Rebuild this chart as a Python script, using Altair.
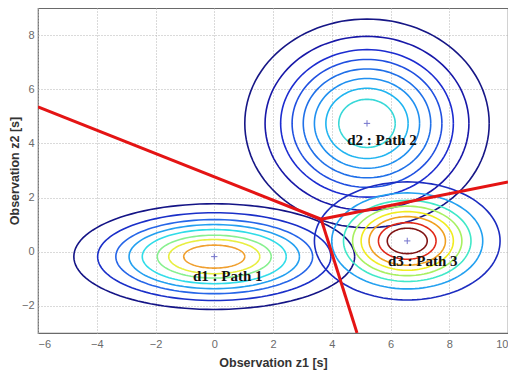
import numpy as np
import pandas as pd
import altair as alt

# Gaussian contour rings (semi-axis along z1, outer -> inner)
g1_center = (0.0, -0.18)
g1_rx = [4.78, 3.97, 3.35, 2.90, 2.45, 1.94, 1.55, 1.04]
g1_aspect = 2.45
g1_colors = ["#141486", "#1a2fc8", "#2666e8", "#24a0f0", "#30dce8", "#88f090", "#e8ee40", "#f0a030"]

g2_center = (5.2, 4.74)
g2_rx = [4.16, 3.47, 2.94, 2.55, 2.17, 1.79, 1.40, 0.96]
g2_aspect = 1.08
g2_colors = ["#161686", "#1818a8", "#1c2cd0", "#2050e0", "#2070e8", "#2090f0", "#20b4f0", "#38d8d8"]

g3_center = (6.57, 0.40)
g3_rx = [3.16, 2.57, 2.17, 1.86, 1.57, 1.30, 0.98, 0.68]
g3_aspect = 1.45
g3_colors = ["#1c2cc0", "#22a0f0", "#40e8c8", "#a8f060", "#f0ec20", "#f0a020", "#e02818", "#801414"]

# decision boundaries (red)
junction = (3.64, 1.2)
bound_ends_x = [-6.0, 10.0, 4.86]
bound_ends_y = [5.35, 2.58, -3.0]

label_text = ["d1 : Path 1", "d2 : Path 2", "d3 : Path 3"]
label_x = [0.46, 5.71, 7.10]
label_y = [-0.88, 4.13, -0.33]

x_ticks = [-6, -4, -2, 0, 2, 4, 6, 8, 10]
y_ticks = [-2, 0, 2, 4, 6, 8]

rows = []
t = np.linspace(0, 2 * np.pi, 121)
for gi, (c, rxs, asp, cols) in enumerate([
        (g1_center, g1_rx, g1_aspect, g1_colors),
        (g2_center, g2_rx, g2_aspect, g2_colors),
        (g3_center, g3_rx, g3_aspect, g3_colors)]):
    for ri, (rx, col) in enumerate(zip(rxs, cols)):
        ry = rx / asp
        for k, tt in enumerate(t):
            rows.append({"ring": f"g{gi}_{ri}", "k": k,
                         "x": c[0] + rx * np.cos(tt), "y": c[1] + ry * np.sin(tt),
                         "color": col})
rings = pd.DataFrame(rows)

bl = []
for i, (ex, ey) in enumerate(zip(bound_ends_x, bound_ends_y)):
    bl.append({"seg": i, "k": 0, "x": junction[0], "y": junction[1]})
    bl.append({"seg": i, "k": 1, "x": ex, "y": ey})
bounds = pd.DataFrame(bl)

centers = pd.DataFrame({"x": [g1_center[0], g2_center[0], g3_center[0]],
                        "y": [g1_center[1], g2_center[1], g3_center[1]]})
labels = pd.DataFrame({"t": label_text, "x": label_x, "y": label_y})

xs = alt.Scale(domain=[-6, 10], nice=False, zero=False)
ys = alt.Scale(domain=[-3, 9], nice=False, zero=False)
xax = alt.Axis(values=x_ticks, title="Observation z1 [s]", grid=True)
yax = alt.Axis(values=y_ticks, title="Observation z2 [s]", grid=True)

ring_layer = alt.Chart(rings).mark_line(strokeWidth=1.6, clip=True).encode(
    x=alt.X("x:Q", scale=xs, axis=xax),
    y=alt.Y("y:Q", scale=ys, axis=yax),
    detail="ring:N",
    order="k:Q",
    color=alt.Color("color:N", scale=None),
)

bound_layer = alt.Chart(bounds).mark_line(color="#e41414", strokeWidth=3, clip=True).encode(
    x=alt.X("x:Q", scale=xs), y=alt.Y("y:Q", scale=ys), detail="seg:N", order="k:Q")

center_layer = alt.Chart(centers).mark_point(
    shape="M-1,0L1,0M0,-1L0,1", size=40, color="#3a3ab8", strokeWidth=1, filled=False
).encode(x=alt.X("x:Q", scale=xs), y=alt.Y("y:Q", scale=ys))

label_layer = alt.Chart(labels).mark_text(
    font="Liberation Serif", fontWeight="bold", fontSize=15, color="#111111"
).encode(x=alt.X("x:Q", scale=xs), y=alt.Y("y:Q", scale=ys), text="t:N")

chart = alt.layer(ring_layer, bound_layer, center_layer, label_layer).properties(
    width=470, height=325,
    autosize=alt.AutoSizeParams(type="none"),
    padding={"left": 30, "top": 0, "right": 0, "bottom": 39},
    background="white",
).configure_view(stroke="#6a6a6a", strokeWidth=1.2).configure_axis(
    domain=False, ticks=False,
    gridColor="#b4b4b4", gridDash=[1, 2], gridWidth=1,
    labelFont="Liberation Sans", labelFontSize=11, labelColor="#6a6a6a",
    titleFont="Liberation Sans", titleFontSize=12.5, titleFontWeight="bold", titleColor="#333333",
).configure_axisX(titlePadding=7, labelPadding=5).configure_axisY(titlePadding=0, labelPadding=4)

chart.save("out.html", embed_options={"renderer": "svg", "actions": False})
